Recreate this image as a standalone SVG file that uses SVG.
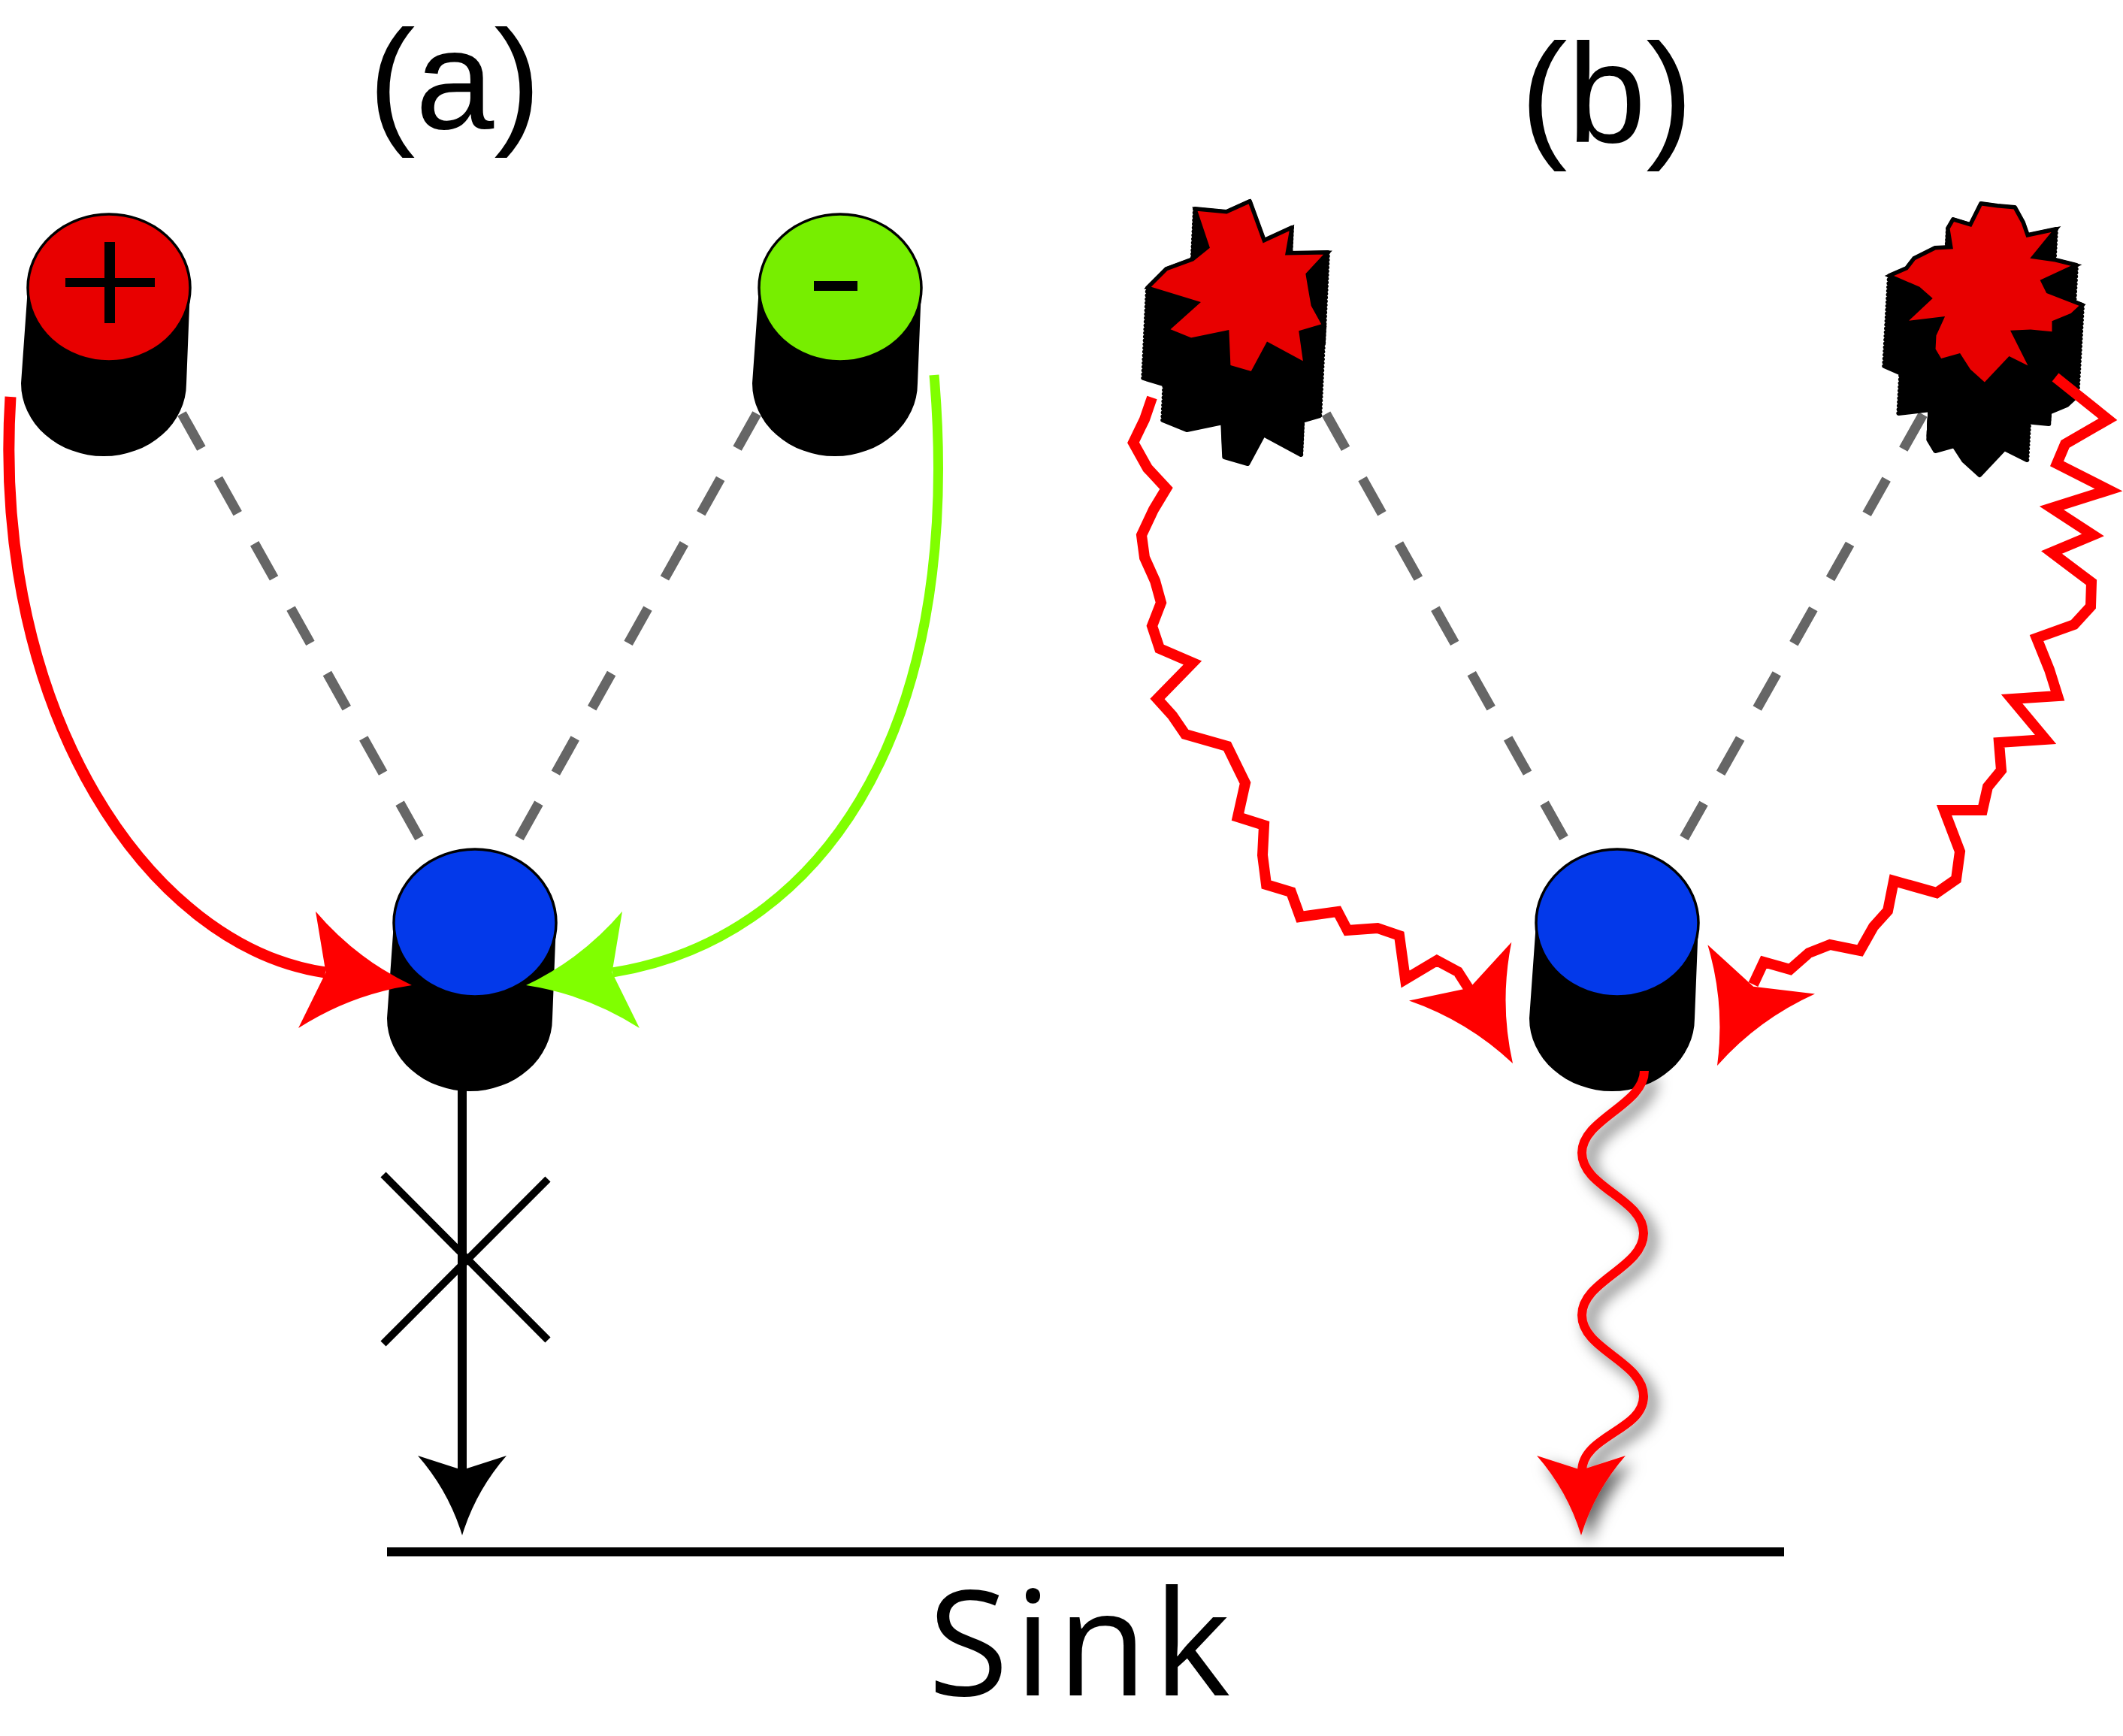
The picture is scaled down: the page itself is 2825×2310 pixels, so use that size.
<svg xmlns="http://www.w3.org/2000/svg" width="2825" height="2310" viewBox="0 0 2825 2310">
<defs>
<style>
.dash{fill:none;stroke:#666666;stroke-width:13;stroke-dasharray:53 46}
.cap{stroke:#000;stroke-width:3.5}
.zig{fill:none;stroke:#ff0000;stroke-width:14;stroke-linejoin:miter;stroke-miterlimit:10}
.ex{fill:#000;stroke:#000;stroke-width:6;stroke-linejoin:round}
.star{fill:#e80000;stroke:#000;stroke-width:5;stroke-linejoin:miter;stroke-miterlimit:10}
.lbl{font-family:"Liberation Sans",Arial,sans-serif;fill:#000}
.sink{font-family:"Open Sans","Liberation Sans",sans-serif;fill:#000}
</style>
<path id="ah" d="M0,0 Q-18,-59 -59,-106 L0,-87 L59,-106 Q18,-59 0,0Z"/>
<g id="cyl">
<path d="M37,383 L28,510 A110,97 0 0 0 248,510 L253,383 Z"/>
<ellipse cx="145" cy="383" rx="108" ry="98"/>
</g>
<path id="gL" d="M1590,278 L1632,282 L1663,268 L1682,320 L1719,303 L1713,337 L1767,336 L1740,365 L1743,383 L1747,406 L1762,433 L1731,442 L1737,485 L1687,458 L1666,497 L1635,488 L1633,442 L1585,452 L1553,439 L1593,403 L1527,383 L1552,358 L1587,345 L1607,329 Z"/>
<path id="gR" d="M2636,271 L2658,274 L2681,276 L2692,296 L2698,313 L2736,305 L2706,342 L2735,346 L2763,353 L2718,374 L2725,388 L2771,406 L2757,419 L2733,429 L2733,444 L2702,441 L2679,442 L2704,492 L2674,477 L2641,512 L2620,493 L2607,473 L2582,480 L2573,465 L2574,446 L2584,424 L2533,430 L2568,397 L2553,384 L2514,367 L2537,357 L2547,344 L2575,330 L2596,329 L2592,304 L2599,292 L2622,299 Z"/>
<filter id="sh" x="-60%" y="-20%" width="220%" height="140%">
<feDropShadow dx="10" dy="10" stdDeviation="10" flood-color="#000" flood-opacity="0.6"/>
</filter>
</defs>
<rect width="2825" height="2310" fill="#fff"/>

<g id="connectors-dashed">
<path class="dash" d="M558,1115 L216,504"/>
<path class="dash" d="M691,1115 L1033,504"/>
<path class="dash" d="M2081,1115 L1739,505"/>
<path class="dash" d="M2241,1115 L2585,505"/>
</g>

<g id="node-plus">
<use href="#cyl"/>
<ellipse class="cap" cx="145" cy="383" rx="108" ry="98" fill="#e80000"/>
<rect x="87" y="370" width="119" height="12"/>
<rect x="139" y="322" width="14" height="108"/>
</g>

<g id="node-minus">
<use href="#cyl" transform="translate(973,0)"/>
<ellipse class="cap" cx="1118" cy="383" rx="108" ry="98" fill="#77ee00"/>
<rect x="1083" y="374" width="58" height="13"/>
</g>

<g id="node-blue-a">
<use href="#cyl" transform="translate(487,845)"/>
<ellipse class="cap" cx="632" cy="1228" rx="108" ry="98" fill="#0339ea"/>
</g>

<g id="node-blue-b">
<use href="#cyl" transform="translate(2007,845)"/>
<ellipse class="cap" cx="2152" cy="1228" rx="108" ry="98" fill="#0339ea"/>
</g>

<g id="node-gear-left">
<g class="ex">
<use href="#gL"/>
<use href="#gL" transform="translate(-0.24,5)"/>
<use href="#gL" transform="translate(-0.48,10)"/>
<use href="#gL" transform="translate(-0.72,15)"/>
<use href="#gL" transform="translate(-0.96,20)"/>
<use href="#gL" transform="translate(-1.2,25)"/>
<use href="#gL" transform="translate(-1.44,30)"/>
<use href="#gL" transform="translate(-1.68,35)"/>
<use href="#gL" transform="translate(-1.92,40)"/>
<use href="#gL" transform="translate(-2.16,45)"/>
<use href="#gL" transform="translate(-2.4,50)"/>
<use href="#gL" transform="translate(-2.64,55)"/>
<use href="#gL" transform="translate(-2.88,60)"/>
<use href="#gL" transform="translate(-3.12,65)"/>
<use href="#gL" transform="translate(-3.36,70)"/>
<use href="#gL" transform="translate(-3.6,75)"/>
<use href="#gL" transform="translate(-3.84,80)"/>
<use href="#gL" transform="translate(-4.08,85)"/>
<use href="#gL" transform="translate(-4.32,90)"/>
<use href="#gL" transform="translate(-4.56,95)"/>
<use href="#gL" transform="translate(-4.8,100)"/>
<use href="#gL" transform="translate(-5.04,105)"/>
<use href="#gL" transform="translate(-5.28,110)"/>
<use href="#gL" transform="translate(-5.52,115)"/>
<use href="#gL" transform="translate(-5.76,120)"/>
</g>
<use href="#gL" class="star"/>
</g>

<g id="node-gear-right">
<g class="ex">
<use href="#gR"/>
<use href="#gR" transform="translate(-0.28,5)"/>
<use href="#gR" transform="translate(-0.56,10)"/>
<use href="#gR" transform="translate(-0.84,15)"/>
<use href="#gR" transform="translate(-1.12,20)"/>
<use href="#gR" transform="translate(-1.4,25)"/>
<use href="#gR" transform="translate(-1.68,30)"/>
<use href="#gR" transform="translate(-1.96,35)"/>
<use href="#gR" transform="translate(-2.24,40)"/>
<use href="#gR" transform="translate(-2.52,45)"/>
<use href="#gR" transform="translate(-2.8,50)"/>
<use href="#gR" transform="translate(-3.08,55)"/>
<use href="#gR" transform="translate(-3.36,60)"/>
<use href="#gR" transform="translate(-3.64,65)"/>
<use href="#gR" transform="translate(-3.92,70)"/>
<use href="#gR" transform="translate(-4.2,75)"/>
<use href="#gR" transform="translate(-4.48,80)"/>
<use href="#gR" transform="translate(-4.76,85)"/>
<use href="#gR" transform="translate(-5.04,90)"/>
<use href="#gR" transform="translate(-5.32,95)"/>
<use href="#gR" transform="translate(-5.6,100)"/>
<use href="#gR" transform="translate(-5.88,105)"/>
<use href="#gR" transform="translate(-6.16,110)"/>
<use href="#gR" transform="translate(-6.44,115)"/>
<use href="#gR" transform="translate(-6.72,120)"/>
</g>
<use href="#gR" class="star"/>
</g>

<g id="connectors">
<path d="M14,528 C-12,950 200,1260 433,1294" fill="none" stroke="#ff0000" stroke-width="15"/>
<use href="#ah" fill="#ff0000" transform="translate(548,1311) rotate(-81.6) scale(1.33)"/>
<path d="M1243,499 C1285,990 1080,1252 815,1294" fill="none" stroke="#80ff00" stroke-width="13"/>
<use href="#ah" fill="#80ff00" transform="translate(700,1311) rotate(81.6) scale(1.33)"/>
<path d="M615,1445 L615,1962" fill="none" stroke="#000" stroke-width="12"/>
<use href="#ah" fill="#000" transform="translate(615,2043)"/>
<path d="M510,1563 L729,1783 M729,1569 L510,1788" fill="none" stroke="#000" stroke-width="10"/>
<polyline class="zig" points="1533,529 1523,558 1508,589 1527,623 1552,650 1535,678 1519,712 1523,742 1537,773 1545,802 1533,833 1543,863 1587,882 1540,930 1560,952 1577,977 1633,993 1657,1042 1647,1087 1682,1098 1680,1138 1685,1177 1718,1187 1730,1220 1780,1213 1793,1238 1833,1235 1862,1245 1870,1303 1912,1278 1940,1293 1956,1318"/>
<use href="#ah" fill="#ff0000" transform="translate(2013,1415) rotate(-29.7) scale(1.33)"/>
<polyline class="zig" points="2735,502 2805,558 2748,591 2737,617 2806,652 2730,676 2785,712 2730,735 2783,775 2782,807 2760,831 2710,849 2727,891 2738,926 2677,930 2722,984 2660,988 2663,1025 2645,1047 2638,1078 2587,1078 2608,1133 2603,1170 2577,1188 2520,1172 2512,1212 2493,1233 2475,1265 2435,1257 2407,1268 2382,1290 2347,1280 2333,1310"/>
<use href="#ah" fill="#ff0000" transform="translate(2285,1418) rotate(24.6) scale(1.33)"/>
<g filter="url(#sh)">
<path d="M2188,1425 C2188,1470 2105,1489 2105,1534 C2105,1580 2187,1595 2187,1641 C2187,1687 2105,1704 2105,1750 C2105,1796 2187,1812 2187,1858 C2187,1904 2105,1910 2105,1958" fill="none" stroke="#ff0000" stroke-width="12"/>
<use href="#ah" fill="#ff0000" transform="translate(2104,2043)"/>
</g>
</g>

<g id="sink">
<line x1="515" y1="2065" x2="2374" y2="2065" stroke="#000" stroke-width="12"/>
<text class="sink" x="1440" y="2256" font-size="195" letter-spacing="8" text-anchor="middle">Sink</text>
</g>
<text class="lbl" x="605" y="171" font-size="188" text-anchor="middle">(a)</text>
<text class="lbl" x="2138" y="189" font-size="188" text-anchor="middle">(b)</text>
</svg>
